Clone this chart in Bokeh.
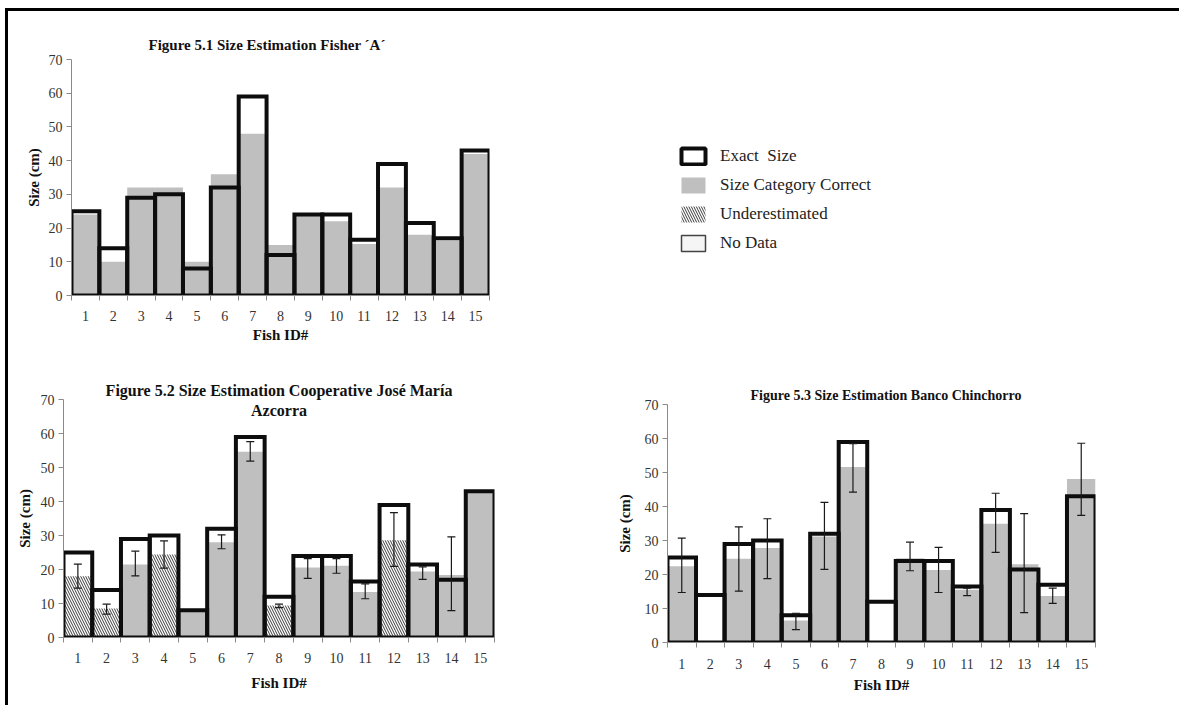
from bokeh.plotting import figure
from bokeh.models import (Range1d, FixedTicker, Whisker, TeeHead, ColumnDataSource,
                          Legend, LegendItem, Label, Spacer)
from bokeh.layouts import row, column
from bokeh.embed import file_html
from bokeh.resources import INLINE

# ---------------- data ----------------
fish_ids = list(range(1, 16))
tick_labels = [str(i) for i in fish_ids]
exact_size = [25, 14, 29, 30, 8, 32, 59, 12, 24, 24, 16.5, 39, 21.5, 17, 43]

fisher_a_est = [24, 10, 32, 32, 10, 36, 48, 15, 24, 22, 15.3, 32, 18, 16.3, 42]

coop_est = [18, 8.5, 21.5, 24.4, 7.5, 28, 54.6, 9.4, 20.6, 21.1, 13.4, 28.6, 19.4, 18.4, 42.5]
coop_under = [True, True, False, True, False, False, False, True,
              False, False, False, True, False, False, False]
coop_err_low = [14.5, 6.9, 18.1, 20.4, None, 26.1, 51.9, 8.8, 17.4, 18.9, 11.4, 20.9, 17.1, 7.9, None]
coop_err_high = [21.6, 9.8, 25.4, 28.4, None, 30.2, 57.6, 9.8, 23.2, 23.2, 15.8, 36.7, 20.8, 29.6, None]

banco_est = [22.4, None, 24.6, 27.8, 6.5, 31.2, 51.6, None, 24.8, 21.3, 15.5, 34.9, 23, 13.7, 48.1]
banco_err_low = [14.7, None, 15.1, 18.8, 3.8, 21.5, 44.2, None, 21.1, 14.7, 13.8, 26.5, 8.8, 11.5, 37.4]
banco_err_high = [30.7, None, 34.0, 36.4, 8.6, 41.2, 58.5, None, 29.5, 28.0, 16.0, 43.9, 37.9, 16.0, 58.6]

legend_labels = ["Exact  Size", "Size Category Correct", "Underestimated", "No Data"]

# ---------------- styles ----------------
SERIF = "Liberation Serif"
GRAY = "#bfbfbf"
EDGE = "#0d0d0d"
AXIS = "#8a8a8a"
TXT = "#333333"
HATCH = dict(hatch_pattern="left_diagonal_line", hatch_color="#3c3c3c",
             hatch_scale=5, hatch_weight=1)


def make_chart(width, height, mbl, mbr, mbt, mbb, title=None, title_size="15px",
               title_align="left", title_offset=0, title_standoff=8, ylab_standoff=5,
               xlab_standoff=2, xtick_standoff=10):
    p = figure(width=width, height=height, x_range=Range1d(0.5, 15.5), y_range=Range1d(0, 70),
               toolbar_location=None, output_backend="svg",
               min_border_left=mbl, min_border_right=mbr, min_border_top=mbt, min_border_bottom=mbb)
    p.xgrid.visible = False
    p.ygrid.visible = False
    p.outline_line_color = None
    p.background_fill_color = "white"
    if title:
        p.title.text = title
        p.title.align = title_align
        p.title.offset = title_offset
        p.title.standoff = title_standoff
        p.title.text_font = SERIF
        p.title.text_font_size = title_size
        p.title.text_font_style = "bold"
        p.title.text_color = "#111111"

    xa = p.xaxis[0]
    xa.ticker = FixedTicker(ticks=fish_ids, minor_ticks=[i + 0.5 for i in range(0, 16)])
    xa.major_label_overrides = {i: s for i, s in zip(fish_ids, tick_labels)}
    xa.major_tick_line_color = None
    xa.major_tick_out = 0
    xa.major_tick_in = 0
    xa.minor_tick_line_color = AXIS
    xa.minor_tick_out = 5
    xa.minor_tick_in = 0
    xa.axis_line_color = AXIS
    xa.major_label_text_font = SERIF
    xa.major_label_text_font_size = "14px"
    xa.major_label_text_color = TXT
    xa.major_label_standoff = xtick_standoff
    xa.axis_label = "Fish ID#"
    xa.axis_label_text_font = SERIF
    xa.axis_label_text_font_size = "15px"
    xa.axis_label_text_font_style = "bold"
    xa.axis_label_text_color = "#111111"
    xa.axis_label_standoff = xlab_standoff

    ya = p.yaxis[0]
    ya.ticker = FixedTicker(ticks=list(range(0, 71, 10)))
    ya.minor_tick_line_color = None
    ya.major_tick_line_color = AXIS
    ya.major_tick_out = 5
    ya.major_tick_in = 0
    ya.axis_line_color = AXIS
    ya.major_label_text_font = SERIF
    ya.major_label_text_font_size = "14px"
    ya.major_label_text_color = TXT
    ya.major_label_standoff = 4
    ya.axis_label = "Size (cm)"
    ya.axis_label_text_font = SERIF
    ya.axis_label_text_font_size = "15px"
    ya.axis_label_text_font_style = "bold"
    ya.axis_label_text_color = "#111111"
    ya.axis_label_standoff = ylab_standoff
    return p


def add_exact(p):
    p.vbar(x=fish_ids, top=exact_size, width=1.0, fill_color=None,
           line_color=EDGE, line_width=4, line_join="miter")


def add_whiskers(p, low, high):
    xs, lo, hi = [], [], []
    for x, a, b in zip(fish_ids, low, high):
        if a is not None and b is not None:
            xs.append(x); lo.append(a); hi.append(b)
    src = ColumnDataSource(dict(x=xs, lower=lo, upper=hi))
    w = Whisker(source=src, base="x", lower="lower", upper="upper", level="annotation",
                line_color="#1a1a1a", line_width=1.2,
                upper_head=TeeHead(size=8, line_color="#1a1a1a", line_width=1.2),
                lower_head=TeeHead(size=8, line_color="#1a1a1a", line_width=1.2))
    p.add_layout(w)


# ---------------- Figure 5.1 ----------------
p1 = make_chart(590, 339, 63, 109, 48, 55, title="Figure 5.1 Size Estimation Fisher \u00b4A\u00b4",
                title_size="15px", title_align="left", title_offset=77, title_standoff=13,
                ylab_standoff=4, xlab_standoff=3, xtick_standoff=10)
p1.vbar(x=fish_ids, top=fisher_a_est, width=1.0, fill_color=GRAY, line_color=None)
add_exact(p1)

# ---------------- Legend panel ----------------
leg = figure(width=581, height=339, x_range=Range1d(0, 1), y_range=Range1d(0, 1),
             toolbar_location=None, output_backend="svg", min_border=0,
             x_axis_location=None, y_axis_location=None)
leg.grid.visible = False
leg.outline_line_color = None
nan = [float("nan")]
r_exact = leg.vbar(x=nan, top=nan, width=1, fill_color="white", line_color=EDGE, line_width=4)
r_gray = leg.vbar(x=nan, top=nan, width=1, fill_color=GRAY, line_color=None)
r_hatch = leg.vbar(x=nan, top=nan, width=1, fill_color="white", line_color=None, **HATCH)
r_nodata = leg.vbar(x=nan, top=nan, width=1, fill_color="#f5f5f5", line_color="#444444", line_width=1.5)
legend = Legend(items=[LegendItem(label=lab, renderers=[r])
                       for lab, r in zip(legend_labels, [r_exact, r_gray, r_hatch, r_nodata])],
                location=(80, 42), glyph_width=30, glyph_height=20, spacing=9, padding=0,
                margin=0, label_standoff=12, label_text_font=SERIF, label_text_font_size="17px",
                label_text_color="#222222", label_height=20,
                border_line_color=None, background_fill_alpha=0)
leg.add_layout(legend, "center")

# ---------------- Figure 5.2 ----------------
p2 = make_chart(592, 355, 55, 106, 49, 68, title="Figure 5.2 Size Estimation Cooperative Jos\u00e9 Mar\u00eda",
                title_size="16px", title_align="center", title_standoff=2,
                ylab_standoff=5, xlab_standoff=9, xtick_standoff=10)
corr_x = [x for x, u in zip(fish_ids, coop_under) if not u]
corr_t = [t for t, u in zip(coop_est, coop_under) if not u]
und_x = [x for x, u in zip(fish_ids, coop_under) if u]
und_t = [t for t, u in zip(coop_est, coop_under) if u]
p2.vbar(x=corr_x, top=corr_t, width=1.0, fill_color=GRAY, line_color=None)
p2.vbar(x=und_x, top=und_t, width=1.0, fill_color="white", line_color=None, **HATCH)
add_exact(p2)
add_whiskers(p2, coop_err_low, coop_err_high)
p2.add_layout(Label(x=8, y=70, y_offset=-2, text="Azcorra",
                    text_align="center", text_baseline="top", text_font=SERIF,
                    text_font_size="16px", text_font_style="bold", text_color="#111111"))

# ---------------- Figure 5.3 ----------------
p3 = make_chart(579, 350, 67, 84, 49, 63, title="Figure 5.3 Size Estimation  Banco  Chinchorro",
                title_size="14px", title_align="left", title_offset=83, title_standoff=3,
                ylab_standoff=9, xlab_standoff=5, xtick_standoff=11)
b_x = [x for x, t in zip(fish_ids, banco_est) if t is not None]
b_t = [t for t in banco_est if t is not None]
p3.vbar(x=b_x, top=b_t, width=1.0, fill_color=GRAY, line_color=None)
add_exact(p3)
add_whiskers(p3, banco_err_low, banco_err_high)

layout = column(row(p1, leg), row(p2, column(Spacer(width=579, height=5), p3)),
                styles={"border-top": "3px solid #000", "border-left": "3px solid #000",
                        "margin-left": "5px", "margin-top": "8px"})

open("out.html", "w").write(file_html(layout, INLINE))
